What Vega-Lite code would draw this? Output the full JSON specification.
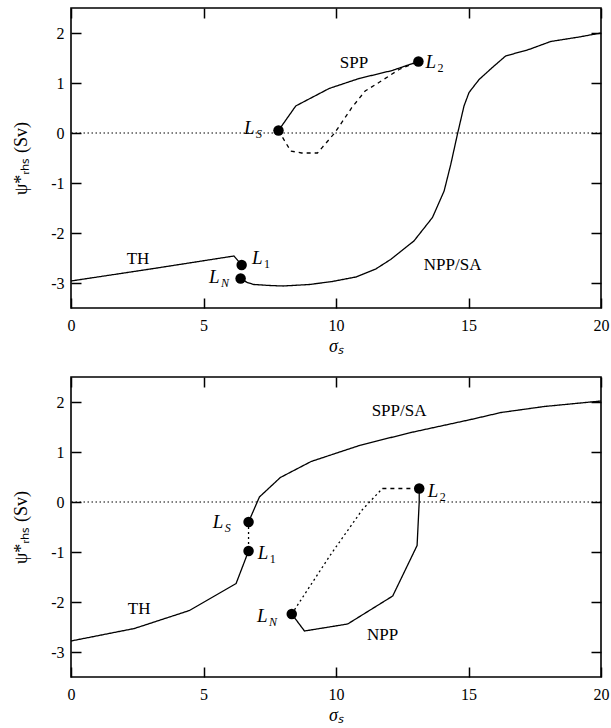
{
  "$schema": "https://vega.github.io/schema/vega-lite/v6.json",
  "background": "white",
  "padding": {"left": 11, "top": 6, "right": 5, "bottom": 5},
  "spacing": 19,
  "config": {
    "view": {"stroke": "black", "strokeWidth": 1.6},
    "font": "Liberation Serif",
    "axis": {"domain": false, "grid": false, "ticks": true, "tickSize": -10, "tickWidth": 1.5, "tickColor": "black",
      "labelFont": "Liberation Serif", "labelFontSize": 16, "labelColor": "black",
      "titleFont": "Liberation Serif", "titleFontSize": 18, "titleFontWeight": "normal", "titleColor": "black"}
  },
  "datasets": {
    "lines": [
      {"p": "top", "c": "TH", "o": 1, "x": 0, "y": -2.96, "s": "solid"},
      {"p": "top", "c": "TH", "o": 2, "x": 3.0, "y": -2.72, "s": "solid"},
      {"p": "top", "c": "TH", "o": 3, "x": 6.15, "y": -2.46, "s": "solid"},
      {"p": "top", "c": "TH", "o": 4, "x": 6.44, "y": -2.64, "s": "solid"},
      {"p": "top", "c": "NPP", "o": 1, "x": 6.40, "y": -2.91, "s": "solid"},
      {"p": "top", "c": "NPP", "o": 2, "x": 6.65, "y": -2.99, "s": "solid"},
      {"p": "top", "c": "NPP", "o": 3, "x": 6.9, "y": -3.03, "s": "solid"},
      {"p": "top", "c": "NPP", "o": 4, "x": 7.5, "y": -3.05, "s": "solid"},
      {"p": "top", "c": "NPP", "o": 5, "x": 8.0, "y": -3.06, "s": "solid"},
      {"p": "top", "c": "NPP", "o": 6, "x": 9.0, "y": -3.03, "s": "solid"},
      {"p": "top", "c": "NPP", "o": 7, "x": 9.86, "y": -2.97, "s": "solid"},
      {"p": "top", "c": "NPP", "o": 8, "x": 10.75, "y": -2.88, "s": "solid"},
      {"p": "top", "c": "NPP", "o": 9, "x": 11.5, "y": -2.72, "s": "solid"},
      {"p": "top", "c": "NPP", "o": 10, "x": 12.06, "y": -2.53, "s": "solid"},
      {"p": "top", "c": "NPP", "o": 11, "x": 12.94, "y": -2.16, "s": "solid"},
      {"p": "top", "c": "NPP", "o": 12, "x": 13.64, "y": -1.69, "s": "solid"},
      {"p": "top", "c": "NPP", "o": 13, "x": 14.08, "y": -1.16, "s": "solid"},
      {"p": "top", "c": "NPP", "o": 14, "x": 14.33, "y": -0.63, "s": "solid"},
      {"p": "top", "c": "NPP", "o": 15, "x": 14.58, "y": -0.03, "s": "solid"},
      {"p": "top", "c": "NPP", "o": 16, "x": 14.83, "y": 0.54, "s": "solid"},
      {"p": "top", "c": "NPP", "o": 17, "x": 15.02, "y": 0.81, "s": "solid"},
      {"p": "top", "c": "NPP", "o": 18, "x": 15.4, "y": 1.07, "s": "solid"},
      {"p": "top", "c": "NPP", "o": 19, "x": 15.9, "y": 1.31, "s": "solid"},
      {"p": "top", "c": "NPP", "o": 20, "x": 16.4, "y": 1.54, "s": "solid"},
      {"p": "top", "c": "NPP", "o": 21, "x": 17.28, "y": 1.67, "s": "solid"},
      {"p": "top", "c": "NPP", "o": 22, "x": 18.1, "y": 1.83, "s": "solid"},
      {"p": "top", "c": "NPP", "o": 23, "x": 19.17, "y": 1.92, "s": "solid"},
      {"p": "top", "c": "NPP", "o": 24, "x": 20, "y": 2.0, "s": "solid"},
      {"p": "top", "c": "SPP", "o": 1, "x": 7.83, "y": 0.05, "s": "solid"},
      {"p": "top", "c": "SPP", "o": 2, "x": 8.48, "y": 0.54, "s": "solid"},
      {"p": "top", "c": "SPP", "o": 3, "x": 9.74, "y": 0.89, "s": "solid"},
      {"p": "top", "c": "SPP", "o": 4, "x": 10.87, "y": 1.09, "s": "solid"},
      {"p": "top", "c": "SPP", "o": 5, "x": 12.12, "y": 1.25, "s": "solid"},
      {"p": "top", "c": "SPP", "o": 6, "x": 13.11, "y": 1.43, "s": "solid"},
      {"p": "top", "c": "DSH", "o": 1, "x": 7.83, "y": 0.05, "s": "dashed"},
      {"p": "top", "c": "DSH", "o": 2, "x": 8.29, "y": -0.36, "s": "dashed"},
      {"p": "top", "c": "DSH", "o": 3, "x": 8.7, "y": -0.40, "s": "dashed"},
      {"p": "top", "c": "DSH", "o": 4, "x": 9.3, "y": -0.40, "s": "dashed"},
      {"p": "top", "c": "DSH", "o": 5, "x": 9.95, "y": 0.0, "s": "dashed"},
      {"p": "top", "c": "DSH", "o": 6, "x": 10.6, "y": 0.51, "s": "dashed"},
      {"p": "top", "c": "DSH", "o": 7, "x": 11.1, "y": 0.84, "s": "dashed"},
      {"p": "top", "c": "DSH", "o": 8, "x": 11.5, "y": 0.97, "s": "dashed"},
      {"p": "top", "c": "DSH", "o": 9, "x": 12.38, "y": 1.27, "s": "dashed"},
      {"p": "top", "c": "DSH", "o": 10, "x": 13.11, "y": 1.43, "s": "dashed"},
      {"p": "bot", "c": "TH", "o": 1, "x": 0, "y": -2.78, "s": "solid"},
      {"p": "bot", "c": "TH", "o": 2, "x": 2.39, "y": -2.53, "s": "solid"},
      {"p": "bot", "c": "TH", "o": 3, "x": 4.47, "y": -2.17, "s": "solid"},
      {"p": "bot", "c": "TH", "o": 4, "x": 6.23, "y": -1.63, "s": "solid"},
      {"p": "bot", "c": "TH", "o": 5, "x": 6.7, "y": -0.98, "s": "solid"},
      {"p": "bot", "c": "LL", "o": 1, "x": 6.7, "y": -0.40, "s": "dotted"},
      {"p": "bot", "c": "LL", "o": 2, "x": 6.7, "y": -0.98, "s": "dotted"},
      {"p": "bot", "c": "SPP", "o": 1, "x": 6.7, "y": -0.40, "s": "solid"},
      {"p": "bot", "c": "SPP", "o": 2, "x": 7.11, "y": 0.10, "s": "solid"},
      {"p": "bot", "c": "SPP", "o": 3, "x": 7.9, "y": 0.49, "s": "solid"},
      {"p": "bot", "c": "SPP", "o": 4, "x": 9.06, "y": 0.81, "s": "solid"},
      {"p": "bot", "c": "SPP", "o": 5, "x": 10.94, "y": 1.14, "s": "solid"},
      {"p": "bot", "c": "SPP", "o": 6, "x": 12.83, "y": 1.39, "s": "solid"},
      {"p": "bot", "c": "SPP", "o": 7, "x": 15.09, "y": 1.65, "s": "solid"},
      {"p": "bot", "c": "SPP", "o": 8, "x": 16.23, "y": 1.79, "s": "solid"},
      {"p": "bot", "c": "SPP", "o": 9, "x": 17.86, "y": 1.91, "s": "solid"},
      {"p": "bot", "c": "SPP", "o": 10, "x": 20, "y": 2.02, "s": "solid"},
      {"p": "bot", "c": "NPP", "o": 1, "x": 8.33, "y": -2.24, "s": "solid"},
      {"p": "bot", "c": "NPP", "o": 2, "x": 8.81, "y": -2.58, "s": "solid"},
      {"p": "bot", "c": "NPP", "o": 3, "x": 10.44, "y": -2.44, "s": "solid"},
      {"p": "bot", "c": "NPP", "o": 4, "x": 12.14, "y": -1.88, "s": "solid"},
      {"p": "bot", "c": "NPP", "o": 5, "x": 13.06, "y": -0.87, "s": "solid"},
      {"p": "bot", "c": "NPP", "o": 6, "x": 13.14, "y": 0.0, "s": "solid"},
      {"p": "bot", "c": "NPP", "o": 7, "x": 13.14, "y": 0.27, "s": "solid"},
      {"p": "bot", "c": "DOT", "o": 1, "x": 8.33, "y": -2.24, "s": "dotted"},
      {"p": "bot", "c": "DOT", "o": 2, "x": 9.8, "y": -1.05, "s": "dotted"},
      {"p": "bot", "c": "DOT", "o": 3, "x": 11.0, "y": -0.15, "s": "dotted"},
      {"p": "bot", "c": "DOT", "o": 4, "x": 11.75, "y": 0.27, "s": "dotted"},
      {"p": "bot", "c": "DSH", "o": 1, "x": 11.75, "y": 0.27, "s": "dashed"},
      {"p": "bot", "c": "DSH", "o": 2, "x": 13.14, "y": 0.27, "s": "dashed"}
    ],
    "pts": [
      {"p": "top", "x": 7.83, "y": 0.05},
      {"p": "top", "x": 6.44, "y": -2.64},
      {"p": "top", "x": 6.40, "y": -2.91},
      {"p": "top", "x": 13.11, "y": 1.43},
      {"p": "bot", "x": 6.7, "y": -0.40},
      {"p": "bot", "x": 6.7, "y": -0.98},
      {"p": "bot", "x": 8.33, "y": -2.24},
      {"p": "bot", "x": 13.14, "y": 0.27}
    ],
    "labs": [
      {"p": "top", "x": 10.68, "y": 1.40, "t": "SPP"},
      {"p": "top", "x": 14.4, "y": -2.64, "t": "NPP/SA"},
      {"p": "top", "x": 2.53, "y": -2.52, "t": "TH"},
      {"p": "bot", "x": 12.38, "y": 1.82, "t": "SPP/SA"},
      {"p": "bot", "x": 11.76, "y": -2.66, "t": "NPP"},
      {"p": "bot", "x": 2.57, "y": -2.14, "t": "TH"}
    ],
    "llabs": [
      {"p": "top", "x": 6.53, "y": -0.01, "m": "L", "sub": "S"},
      {"p": "top", "x": 13.38, "y": 1.30, "m": "L", "sub": "2"},
      {"p": "top", "x": 6.83, "y": -2.62, "m": "L", "sub": "1"},
      {"p": "top", "x": 5.21, "y": -3.0, "m": "L", "sub": "N"},
      {"p": "bot", "x": 5.35, "y": -0.51, "m": "L", "sub": "S"},
      {"p": "bot", "x": 7.05, "y": -1.13, "m": "L", "sub": "1"},
      {"p": "bot", "x": 7.02, "y": -2.39, "m": "L", "sub": "N"},
      {"p": "bot", "x": 13.46, "y": 0.11, "m": "L", "sub": "2"}
    ],
    "zero": [{"y": 0}]
  },
  "vconcat": [
    {
      "width": 530, "height": 300,
      "resolve": {"axis": {"x": "independent", "y": "independent"}},
      "layer": [
        {"data": {"name": "zero"},
         "mark": {"type": "rule", "color": "black", "strokeWidth": 1, "strokeDash": [1.5, 2.5]},
         "encoding": {"y": {"field": "y", "type": "quantitative", "axis": null, "scale": {"domain": [-3.5, 2.5], "nice": false, "zero": false}}}},
        {"data": {"name": "lines"}, "transform": [{"filter": "datum.p == 'top'"}],
         "mark": {"type": "line", "color": "black", "strokeWidth": 1.3},
         "encoding": {
           "x": {"field": "x", "type": "quantitative", "scale": {"domain": [0, 20], "nice": false, "zero": false},
                 "axis": {"values": [0, 5, 10, 15, 20], "title": "σₛ", "titleFontStyle": "italic", "labelPadding": 19, "titlePadding": 4, "labelFlush": false}},
           "y": {"field": "y", "type": "quantitative", "scale": {"domain": [-3.5, 2.5], "nice": false, "zero": false},
                 "axis": {"values": [-3, -2, -1, 0, 1, 2], "labelExpr": "'' + datum.value", "title": "ψ*ᵣₕₛ (Sv)", "labelPadding": 17, "titlePadding": 20}},
           "detail": {"field": "c"},
           "order": {"field": "o", "type": "quantitative"},
           "strokeDash": {"field": "s", "type": "nominal", "scale": {"domain": ["solid", "dashed", "dotted"], "range": [[1, 0], [4, 4], [2, 3]]}, "legend": null}
         }},
        {"data": {"name": "pts"}, "transform": [{"filter": "datum.p == 'top'"}],
         "mark": {"type": "circle", "color": "black", "opacity": 1, "size": 110},
         "encoding": {
           "x": {"field": "x", "type": "quantitative", "axis": {"orient": "top", "values": [0, 5, 10, 15, 20], "labels": false, "title": null}},
           "y": {"field": "y", "type": "quantitative", "axis": {"orient": "right", "values": [-3, -2, -1, 0, 1, 2], "labels": false, "title": null}}
         }},
        {"data": {"name": "labs"}, "transform": [{"filter": "datum.p == 'top'"}],
         "mark": {"type": "text", "font": "Liberation Serif", "fontSize": 17, "align": "center", "baseline": "middle", "color": "black"},
         "encoding": {"x": {"field": "x", "type": "quantitative", "axis": null}, "y": {"field": "y", "type": "quantitative", "axis": null}, "text": {"field": "t"}}},
        {"data": {"name": "llabs"}, "transform": [{"filter": "datum.p == 'top'"}],
         "mark": {"type": "text", "font": "Liberation Serif", "fontSize": 19, "fontStyle": "italic", "align": "left", "baseline": "alphabetic", "color": "black"},
         "encoding": {"x": {"field": "x", "type": "quantitative", "axis": null}, "y": {"field": "y", "type": "quantitative", "axis": null}, "text": {"field": "m"}}},
        {"data": {"name": "llabs"}, "transform": [{"filter": "datum.p == 'top' && (datum.sub == 'S' || datum.sub == 'N')"}],
         "mark": {"type": "text", "font": "Liberation Serif", "fontSize": 12, "fontStyle": "italic", "align": "left", "baseline": "alphabetic", "dx": 12, "dy": 4, "color": "black"},
         "encoding": {"x": {"field": "x", "type": "quantitative", "axis": null}, "y": {"field": "y", "type": "quantitative", "axis": null}, "text": {"field": "sub"}}},
        {"data": {"name": "llabs"}, "transform": [{"filter": "datum.p == 'top' && (datum.sub == '1' || datum.sub == '2')"}],
         "mark": {"type": "text", "font": "Liberation Serif", "fontSize": 12, "align": "left", "baseline": "alphabetic", "dx": 12, "dy": 4, "color": "black"},
         "encoding": {"x": {"field": "x", "type": "quantitative", "axis": null}, "y": {"field": "y", "type": "quantitative", "axis": null}, "text": {"field": "sub"}}}
      ]
    },
    {
      "width": 530, "height": 300,
      "resolve": {"axis": {"x": "independent", "y": "independent"}},
      "layer": [
        {"data": {"name": "zero"},
         "mark": {"type": "rule", "color": "black", "strokeWidth": 1, "strokeDash": [1.5, 2.5]},
         "encoding": {"y": {"field": "y", "type": "quantitative", "axis": null, "scale": {"domain": [-3.5, 2.5], "nice": false, "zero": false}}}},
        {"data": {"name": "lines"}, "transform": [{"filter": "datum.p == 'bot'"}],
         "mark": {"type": "line", "color": "black", "strokeWidth": 1.3},
         "encoding": {
           "x": {"field": "x", "type": "quantitative", "scale": {"domain": [0, 20], "nice": false, "zero": false},
                 "axis": {"values": [0, 5, 10, 15, 20], "title": "σₛ", "titleFontStyle": "italic", "labelPadding": 19, "titlePadding": 4, "labelFlush": false}},
           "y": {"field": "y", "type": "quantitative", "scale": {"domain": [-3.5, 2.5], "nice": false, "zero": false},
                 "axis": {"values": [-3, -2, -1, 0, 1, 2], "labelExpr": "'' + datum.value", "title": "ψ*ᵣₕₛ (Sv)", "labelPadding": 17, "titlePadding": 20}},
           "detail": {"field": "c"},
           "order": {"field": "o", "type": "quantitative"},
           "strokeDash": {"field": "s", "type": "nominal", "scale": {"domain": ["solid", "dashed", "dotted"], "range": [[1, 0], [4, 3], [2, 3]]}, "legend": null}
         }},
        {"data": {"name": "pts"}, "transform": [{"filter": "datum.p == 'bot'"}],
         "mark": {"type": "circle", "color": "black", "opacity": 1, "size": 110},
         "encoding": {
           "x": {"field": "x", "type": "quantitative", "axis": {"orient": "top", "values": [0, 5, 10, 15, 20], "labels": false, "title": null}},
           "y": {"field": "y", "type": "quantitative", "axis": {"orient": "right", "values": [-3, -2, -1, 0, 1, 2], "labels": false, "title": null}}
         }},
        {"data": {"name": "labs"}, "transform": [{"filter": "datum.p == 'bot'"}],
         "mark": {"type": "text", "font": "Liberation Serif", "fontSize": 17, "align": "center", "baseline": "middle", "color": "black"},
         "encoding": {"x": {"field": "x", "type": "quantitative", "axis": null}, "y": {"field": "y", "type": "quantitative", "axis": null}, "text": {"field": "t"}}},
        {"data": {"name": "llabs"}, "transform": [{"filter": "datum.p == 'bot'"}],
         "mark": {"type": "text", "font": "Liberation Serif", "fontSize": 19, "fontStyle": "italic", "align": "left", "baseline": "alphabetic", "color": "black"},
         "encoding": {"x": {"field": "x", "type": "quantitative", "axis": null}, "y": {"field": "y", "type": "quantitative", "axis": null}, "text": {"field": "m"}}},
        {"data": {"name": "llabs"}, "transform": [{"filter": "datum.p == 'bot' && (datum.sub == 'S' || datum.sub == 'N')"}],
         "mark": {"type": "text", "font": "Liberation Serif", "fontSize": 12, "fontStyle": "italic", "align": "left", "baseline": "alphabetic", "dx": 12, "dy": 4, "color": "black"},
         "encoding": {"x": {"field": "x", "type": "quantitative", "axis": null}, "y": {"field": "y", "type": "quantitative", "axis": null}, "text": {"field": "sub"}}},
        {"data": {"name": "llabs"}, "transform": [{"filter": "datum.p == 'bot' && (datum.sub == '1' || datum.sub == '2')"}],
         "mark": {"type": "text", "font": "Liberation Serif", "fontSize": 12, "align": "left", "baseline": "alphabetic", "dx": 12, "dy": 4, "color": "black"},
         "encoding": {"x": {"field": "x", "type": "quantitative", "axis": null}, "y": {"field": "y", "type": "quantitative", "axis": null}, "text": {"field": "sub"}}}
      ]
    }
  ]
}
